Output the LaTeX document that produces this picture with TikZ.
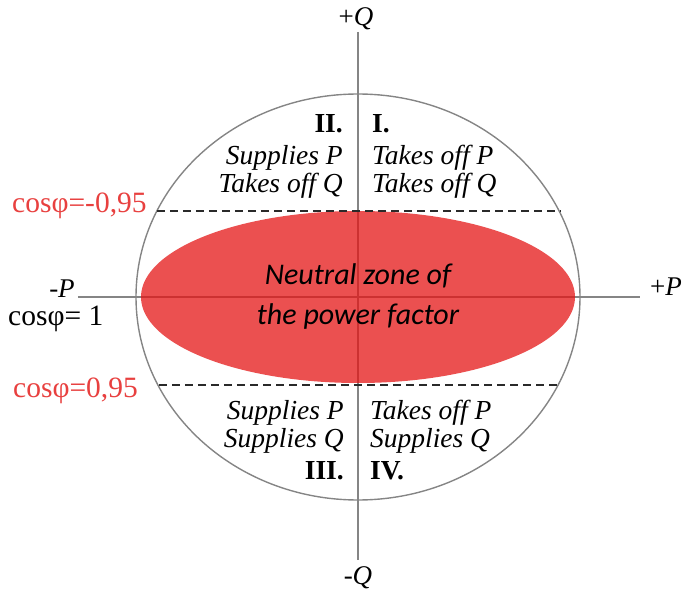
\documentclass[tikz,border=0pt]{standalone}
\usepackage{fontspec}
\setmainfont{Liberation Serif}
\newfontfamily\zonefont{Carlito}
\usetikzlibrary{positioning}
\definecolor{axisgray}{HTML}{858585}
\definecolor{zonered}{HTML}{E41616}
\definecolor{labred}{HTML}{E8403F}
\definecolor{dashink}{HTML}{2A2A2A}
\tikzset{
  axis/.style={draw=axisgray, line width=1.8pt},
  rim/.style={draw=axisgray, line width=1.4pt},
  pfline/.style={draw=dashink, line width=2.3pt, dash pattern=on 8pt off 5pt},
  zone/.style={fill=zonered, fill opacity=0.75},
  axlab/.style={font=\fontsize{27}{27}\selectfont, inner sep=0pt},
  quad/.style={font=\fontsize{27.5}{28}\selectfont, inner sep=0pt, align=#1},
  cosl/.style={font=\fontsize{29.5}{29.5}\selectfont, inner sep=0pt, anchor=west, text=#1},
  cosl/.default=labred,
  zonetxt/.style={font=\zonefont\itshape\fontsize{30}{40}\selectfont, align=center, inner sep=0pt},
}
\begin{document}
\begin{tikzpicture}[x=1pt,y=1pt]
  \useasboundingbox (-358,-297) rectangle (332,297);
  % circle of the power plane
  \draw[rim] (0,0) ellipse [x radius=222, y radius=203];
  % axes
  \node[axlab] (pQ) at (-2,278) {+\textit{Q}};
  \node[axlab] (mQ) at (0,-281) {-\textit{Q}};
  \node[axlab] (pP) at (308,10) {+\textit{P}};
  \node[axlab] (mP) at (-296,8) {-\textit{P}};
  \coordinate (qtop) at (0,265);
  \coordinate (qbot) at (0,-263);
  \coordinate (pleft) at (-280,0);
  \coordinate (pright) at (282,0);
  \draw[axis] (qtop) -- (qbot);
  \draw[axis] (pleft) -- (pright);
  % neutral zone
  \fill[zone] (0,0) ellipse [x radius=217, y radius=86];
  \node[zonetxt] (zt) at (0,0) {Neutral zone of\\the power factor};
  % cos limits
  \coordinate (dnw) at (-201,86);
  \coordinate (dne) at (203,86);
  \coordinate (dsw) at (-199,-88);
  \coordinate (dse) at (201,-88);
  \draw[pfline] (dnw) -- (dne);
  \draw[pfline] (dsw) -- (dse);
  \node[cosl] (cneg) at (-346,91) {cosφ=-0,95};
  \node[cosl] (cpos) at (-345,-94) {cosφ=0,95};
  \node[cosl=black] (cone) at (-350,-22) {cosφ= 1};
  % quadrants
  \node[quad=right, anchor=north east] (q2) at (-15,183)
    {\textbf{II.}\\[4pt]\textit{Supplies P}\\\textit{Takes off Q}};
  \node[quad=left, anchor=north west] (q1) at (14,183)
    {\textbf{I.}\\[4pt]\textit{Takes off P}\\\textit{Takes off Q}};
  \node[quad=right, anchor=south east] (q3) at (-14,-183)
    {\textit{Supplies P}\\\textit{Supplies Q}\\[4pt]\textbf{III.}};
  \node[quad=left, anchor=south west] (q4) at (12,-183)
    {\textit{Takes off P}\\\textit{Supplies Q}\\[4pt]\textbf{IV.}};
\end{tikzpicture}
\end{document}
